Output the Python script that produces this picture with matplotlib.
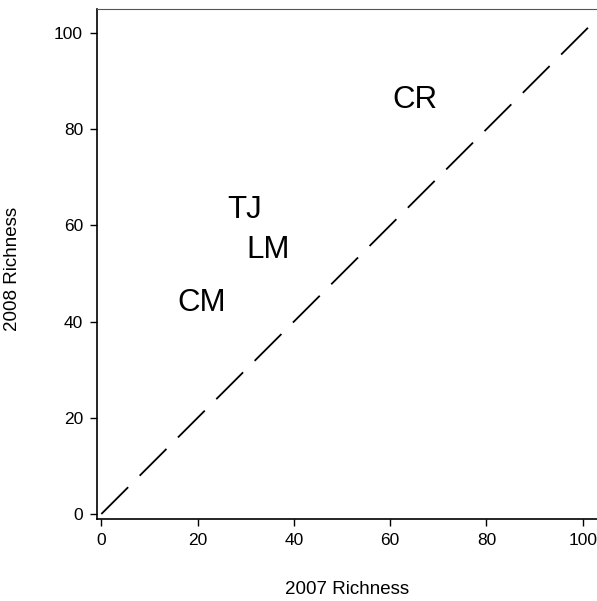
import matplotlib
matplotlib.use('Agg')
import matplotlib.pyplot as plt

# site richness 2007 vs 2008
sites = ['CR', 'TJ', 'LM', 'CM']
rich_2007 = [65.1, 29.8, 34.6, 20.9]
rich_2008 = [86.0, 63.2, 54.9, 43.9]
line_x = [0, 101.5]
line_y = [0, 101.5]
ticks = [0, 20, 40, 60, 80, 100]

plt.rcParams['font.family'] = ['Liberation Sans', 'DejaVu Sans']

W, H = 597, 601
fig = plt.figure(figsize=(W / 100, H / 100), dpi=100)
ax = fig.add_axes([97 / W, (H - 519) / H, 503 / W, 510 / H])

ax.plot(line_x, line_y, color='black', linewidth=1.3, dashes=(21, 9))

for s, x, y in zip(sites, rich_2007, rich_2008):
    ax.text(x, y, s, fontsize=22.5, ha='center', va='center')

ax.set_xlim(-0.9, 103.6)
ax.set_ylim(-1.04, 105.0)
ax.set_xticks(ticks)
ax.set_yticks(ticks)
ax.tick_params(direction='out', length=5, width=1, labelsize=12.5, pad=5, colors='black')

ax.spines['right'].set_visible(False)
ax.spines['top'].set_color('#555555')
for sp in ['left', 'bottom']:
    ax.spines[sp].set_linewidth(1.2)

ax.set_xlabel('2007 Richness', fontsize=13.5)
ax.set_ylabel('2008 Richness', fontsize=13.5)
ax.xaxis.set_label_coords(0.497, -0.139)
ax.xaxis.label.set_va('center')
ax.yaxis.set_label_coords(-0.168, 0.49)
ax.yaxis.label.set_va('center')

fig.savefig('out.png', dpi=100)
